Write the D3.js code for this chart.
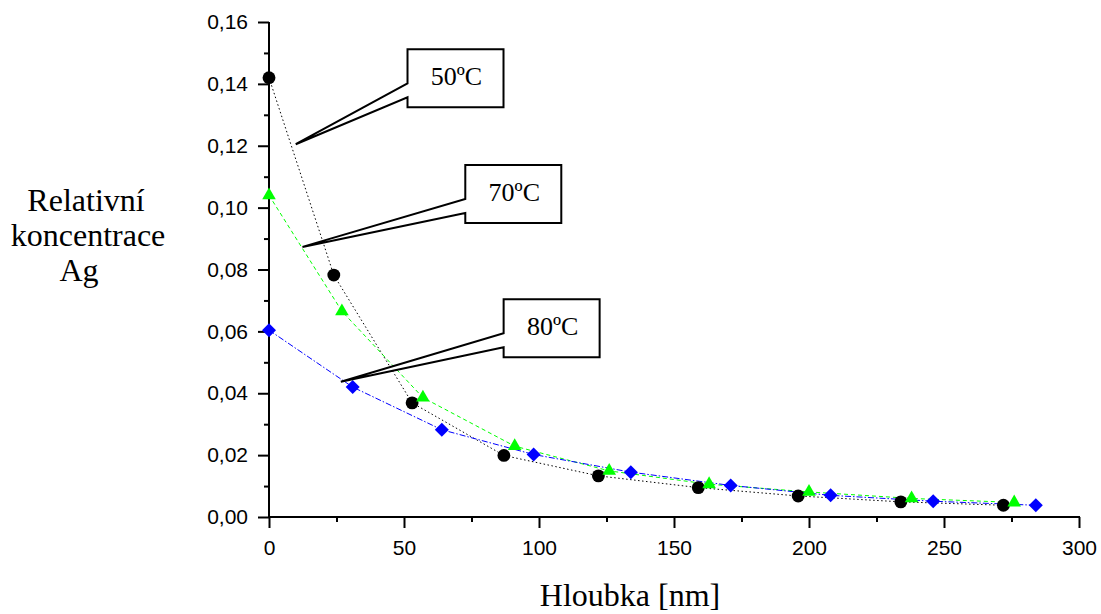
<!DOCTYPE html>
<html>
<head>
<meta charset="utf-8">
<script src="https://cdn.jsdelivr.net/npm/d3@7"></script>
<style>
  body { margin: 0; background: #fff; }
  .tick-label { font-family: "Liberation Sans", Arial, sans-serif; font-size: 21px; fill: #000; }
  .title { font-family: "Liberation Serif", "Times New Roman", serif; font-size: 32px; fill: #000; }
  .callout { font-family: "Liberation Serif", "Times New Roman", serif; font-size: 26px; fill: #000; }
</style>
</head>
<body>
<svg id="chart" width="1101" height="614"></svg>
<script>
// depth values (nm) for each series
const depth50 = [0, 24, 53, 87, 122, 159, 196, 234, 272];
const depth70 = [0, 27, 57, 91, 126, 163, 200, 238, 276];
const depth80 = [0, 31, 64, 98, 134, 171, 208, 246, 284];

// relative Ag concentration
const conc50 = [0.142, 0.0782, 0.0369, 0.0199, 0.0133, 0.0095, 0.0068, 0.0049, 0.0038];
const conc70 = [0.104, 0.0665, 0.0386, 0.0229, 0.0149, 0.0106, 0.0081, 0.0060, 0.0047];
const conc80 = [0.0604, 0.0420, 0.0282, 0.0202, 0.0145, 0.0102, 0.0070, 0.0051, 0.0038];

const seriesNames = ['50ºC', '70ºC', '80ºC'];

const xTicks = [0, 50, 100, 150, 200, 250, 300];
const yTicks = [0, 0.02, 0.04, 0.06, 0.08, 0.10, 0.12, 0.14, 0.16];

// callouts: pointer tip and box (left x, centre y) in data units
const calloutTipX = [9.9, 12.4, 26.6];
const calloutTipY = [0.1205, 0.0873, 0.0437];
const calloutBoxX = [51.3, 72.7, 86.9];
const calloutBoxY = [0.1418, 0.1044, 0.0610];

const margin = { top: 22, right: 22, bottom: 97, left: 269 };
const width = 1101 - margin.left - margin.right;
const height = 614 - margin.top - margin.bottom;

const svg = d3.select('#chart')
    .append('g')
    .attr('transform', `translate(${margin.left},${margin.top})`);

const x = d3.scaleLinear().domain([0, 300]).range([0, width]);
const y = d3.scaleLinear().domain([0, 0.16]).range([height, 0]);

const fmt = d => d3.format('.2f')(d).replace('.', ',');

// y axis
const yAxis = svg.append('g')
    .call(d3.axisLeft(y).tickValues(yTicks).tickFormat(fmt).tickSize(11).tickPadding(10));
svg.append('g')
    .call(d3.axisLeft(y).tickValues(d3.range(0.01, 0.16, 0.02)).tickFormat('').tickSize(5))
    .select('.domain').remove();

// x axis
const xAxis = svg.append('g')
    .attr('transform', `translate(0,${height})`)
    .call(d3.axisBottom(x).tickValues(xTicks).tickSize(11).tickPadding(12));
svg.append('g')
    .attr('transform', `translate(0,${height})`)
    .call(d3.axisBottom(x).tickValues(d3.range(25, 300, 50)).tickFormat('').tickSize(5))
    .select('.domain').remove();

svg.selectAll('.domain').attr('stroke', '#000').attr('stroke-width', 2);
svg.selectAll('.tick line').attr('stroke', '#000').attr('stroke-width', 2);
svg.selectAll('.tick text').attr('class', 'tick-label').attr('font-size', null).attr('font-family', null);
yAxis.selectAll('.domain').attr('d', `M0,${height + 1}V0`);
xAxis.selectAll('.domain').attr('d', `M-1,0H${width + 1}`);

// series
const series = [
    { x: depth50, y: conc50, color: '#000000', dash: '1.5,2.5', symbol: d3.symbolCircle, size: 130, rot: 0 },
    { x: depth70, y: conc70, color: '#00ff00', dash: '4,3', symbol: d3.symbolTriangle, size: 80, rot: 0 },
    { x: depth80, y: conc80, color: '#0000ff', dash: '6,2,1.5,2', symbol: d3.symbolSquare, size: 98, rot: 45 }
];

const line = d3.line().x(d => x(d[0])).y(d => y(d[1]));

series.forEach(s => {
    const pts = s.x.map((d, i) => [d, s.y[i]]);
    svg.append('path')
        .datum(pts)
        .attr('d', line)
        .attr('fill', 'none')
        .attr('stroke', s.color)
        .attr('stroke-width', 1)
        .attr('stroke-dasharray', s.dash);
});

series.forEach(s => {
    const pts = s.x.map((d, i) => [d, s.y[i]]);
    svg.selectAll(null)
        .data(pts)
        .enter()
        .append('path')
        .attr('d', d3.symbol().type(s.symbol).size(s.size))
        .attr('transform', d => `translate(${x(d[0])},${y(d[1])}) rotate(${s.rot})`)
        .attr('fill', s.color);
});

// callout boxes
const boxW = 96, boxH = 58;
seriesNames.forEach((name, i) => {
    const tx = x(calloutTipX[i]), ty = y(calloutTipY[i]);
    const left = x(calloutBoxX[i]), top = y(calloutBoxY[i]) - boxH / 2;
    const p = d3.path();
    p.moveTo(tx, ty);
    p.lineTo(left, top + 34);
    p.lineTo(left, top);
    p.lineTo(left + boxW, top);
    p.lineTo(left + boxW, top + boxH);
    p.lineTo(left, top + boxH);
    p.lineTo(left, top + 48);
    p.closePath();
    svg.append('path')
        .attr('d', p.toString())
        .attr('fill', '#fff')
        .attr('stroke', '#000')
        .attr('stroke-width', 2)
        .attr('stroke-linejoin', 'miter');
    svg.append('text')
        .attr('class', 'callout')
        .attr('x', left + boxW / 2 + 1)
        .attr('y', top + 36)
        .attr('text-anchor', 'middle')
        .text(name);
});

// axis titles
const root = d3.select('#chart');
root.append('text')
    .attr('class', 'title')
    .attr('x', 630)
    .attr('y', 606)
    .attr('text-anchor', 'middle')
    .text('Hloubka [nm]');

const yTitle = ['Relativní', 'koncentrace', 'Ag'];
const yTitleX = [86, 88, 79];
yTitle.forEach((t, i) => {
    root.append('text')
        .attr('class', 'title')
        .attr('x', yTitleX[i])
        .attr('y', 211 + i * 35)
        .attr('text-anchor', 'middle')
        .text(t);
});
</script>
</body>
</html>
